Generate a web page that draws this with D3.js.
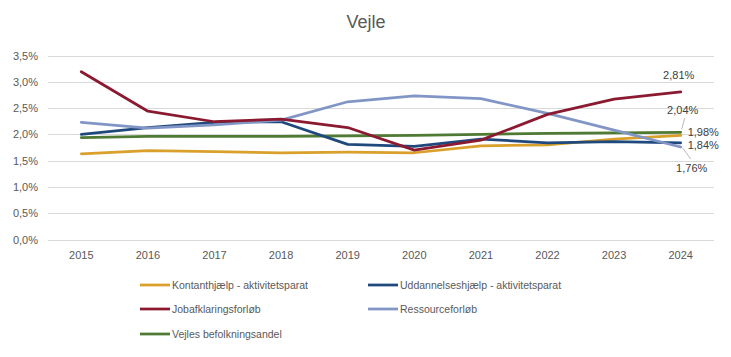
<!DOCTYPE html>
<html>
<head>
<meta charset="utf-8">
<script src="https://cdn.jsdelivr.net/npm/d3@7"></script>
<style>
  body { margin: 0; background: #fff; }
  svg { display: block; font-family: "Liberation Sans", Arial, sans-serif; }
</style>
</head>
<body>
<svg id="chart" width="731" height="357"></svg>
<script>
const years = [2015, 2016, 2017, 2018, 2019, 2020, 2021, 2022, 2023, 2024];
const yTicks = [0, 0.5, 1.0, 1.5, 2.0, 2.5, 3.0, 3.5];

const kontanthjaelp = [1.63, 1.69, 1.67, 1.65, 1.66, 1.65, 1.78, 1.80, 1.91, 1.98];
const uddannelseshjaelp = [2.00, 2.13, 2.23, 2.24, 1.81, 1.77, 1.91, 1.84, 1.86, 1.84];
const jobafklaring = [3.19, 2.44, 2.24, 2.29, 2.13, 1.70, 1.89, 2.38, 2.67, 2.81];
const ressourceforloeb = [2.23, 2.12, 2.18, 2.27, 2.62, 2.73, 2.68, 2.40, 2.08, 1.76];
const befolkningsandel = [1.94, 1.96, 1.96, 1.96, 1.97, 1.98, 2.00, 2.02, 2.03, 2.04];

const seriesNames = ["Kontanthjælp - aktivitetsparat", "Uddannelseshjælp - aktivitetsparat",
  "Jobafklaringsforløb", "Ressourceforløb", "Vejles befolkningsandel"];
const seriesColors = ["#D9A02B", "#1F497D", "#8B1A31", "#8296C6", "#4F7A33"];
const seriesValues = [kontanthjaelp, uddannelseshjaelp, jobafklaring, ressourceforloeb, befolkningsandel];

const series = seriesNames.map((n, i) => ({ name: n, color: seriesColors[i], values: seriesValues[i] }));

const svg = d3.select("#chart");
const pLeft = 48, pRight = 714, pTop = 55.5, pBottom = 239.5;

const x = d3.scaleBand().domain(years).range([pLeft, pRight]);
const y = d3.scaleLinear().domain([0, 3.5]).range([pBottom, pTop]);
const cx = d => x(d) + x.bandwidth() / 2;
const fmt = v => d3.format(".1f")(v).replace(".", ",") + "%";
const fmt2 = v => d3.format(".2f")(v).replace(".", ",") + "%";

// Title
svg.append("text").attr("x", 366).attr("y", 28).attr("text-anchor", "middle")
  .attr("font-size", 18).attr("fill", "#595959").text("Vejle");

// Gridlines
svg.append("g").selectAll("line").data(yTicks).join("line")
  .attr("x1", pLeft).attr("x2", pRight)
  .attr("y1", d => Math.round(y(d)) + 0.5).attr("y2", d => Math.round(y(d)) + 0.5)
  .attr("stroke", "#D9D9D9").attr("stroke-width", 1);

// Y axis labels
const yAxis = d3.axisLeft(y).tickValues(yTicks).tickFormat(fmt).tickSize(0).tickPadding(10);
const gy = svg.append("g").attr("transform", `translate(${pLeft},0)`).call(yAxis);
gy.select(".domain").remove();
gy.selectAll("text").attr("font-size", 11).attr("fill", "#595959")
  .attr("font-family", "Liberation Sans, Arial, sans-serif");

// X axis labels
const xAxis = d3.axisBottom(x).tickSize(0).tickPadding(12);
const gx = svg.append("g").attr("transform", `translate(0,${pBottom})`).call(xAxis);
gx.select(".domain").remove();
gx.selectAll("text").attr("font-size", 11).attr("fill", "#595959")
  .attr("font-family", "Liberation Sans, Arial, sans-serif");

// Lines
const line = d3.line().x((d, i) => cx(years[i])).y(d => y(d));
const drawOrder = [4, 0, 1, 3, 2];
drawOrder.forEach(i => {
  svg.append("path").datum(series[i].values)
    .attr("d", line).attr("fill", "none")
    .attr("stroke", series[i].color).attr("stroke-width", 2.75)
    .attr("stroke-linejoin", "round").attr("stroke-linecap", "round");
});

// End labels
const last = years[years.length - 1];
const lx = cx(last);
const labelStyle = sel => sel.attr("font-size", 11).attr("fill", "#404040");
labelStyle(svg.append("text").attr("x", lx - 2).attr("y", y(jobafklaring[9]) - 13)
  .attr("text-anchor", "middle").text(fmt2(jobafklaring[9])));
labelStyle(svg.append("text").attr("x", lx + 2).attr("y", y(befolkningsandel[9]) - 18)
  .attr("text-anchor", "middle").text(fmt2(befolkningsandel[9])));
svg.append("line").attr("x1", lx + 4).attr("y1", y(befolkningsandel[9]) - 14)
  .attr("x2", lx + 1).attr("y2", y(befolkningsandel[9]) - 3)
  .attr("stroke", "#A6A6A6").attr("stroke-width", 0.8);
labelStyle(svg.append("text").attr("x", lx + 7).attr("y", y(kontanthjaelp[9]) + 1)
  .attr("text-anchor", "start").attr("font-size", 10.5).text(fmt2(kontanthjaelp[9])));
labelStyle(svg.append("text").attr("x", lx + 7).attr("y", y(uddannelseshjaelp[9]) + 6)
  .attr("text-anchor", "start").attr("font-size", 10.5).text(fmt2(uddannelseshjaelp[9])));
labelStyle(svg.append("text").attr("x", lx + 11).attr("y", y(ressourceforloeb[9]) + 25)
  .attr("text-anchor", "middle").text(fmt2(ressourceforloeb[9])));
svg.append("line").attr("x1", lx + 2).attr("y1", y(ressourceforloeb[9]) + 1)
  .attr("x2", lx + 10).attr("y2", y(ressourceforloeb[9]) + 12)
  .attr("stroke", "#A6A6A6").attr("stroke-width", 0.8);

// Legend
const legendPos = [
  { x: 140, y: 285 }, { x: 368, y: 285 },
  { x: 140, y: 309 }, { x: 368, y: 309 },
  { x: 140, y: 334 }
];
const lg = svg.append("g").selectAll("g").data(series).join("g")
  .attr("transform", (d, i) => `translate(${legendPos[i].x},${legendPos[i].y})`);
lg.append("line").attr("x1", 0).attr("x2", 30).attr("y1", 0).attr("y2", 0)
  .attr("stroke", d => d.color).attr("stroke-width", 2.75);
lg.append("text").attr("x", 32).attr("y", 4).attr("font-size", 10.5)
  .attr("fill", "#595959").text(d => d.name);
</script>
</body>
</html>
